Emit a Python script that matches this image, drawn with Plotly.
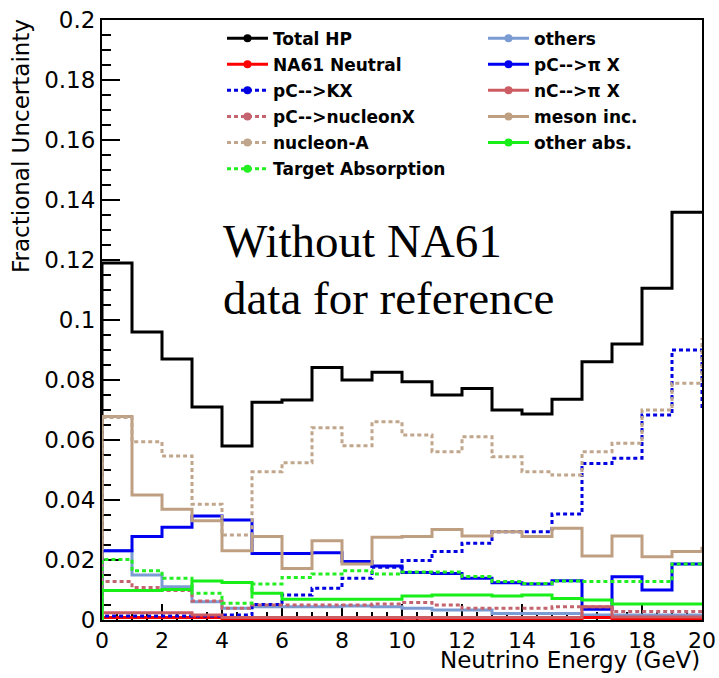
import plotly.graph_objects as go

# Binning: 1 GeV bins from 0 to 20 GeV
bin_edges = list(range(21))

# Fractional uncertainty per bin for each hadron-production component
total_hp = [0.119, 0.096, 0.087, 0.071, 0.058, 0.0726, 0.0733, 0.0842, 0.080, 0.0826,
            0.0794, 0.075, 0.0772, 0.070, 0.0687, 0.0736, 0.0861, 0.092, 0.1106, 0.1359]
others = [0.0231, 0.015, 0.0111, 0.0061, 0.0039, 0.0044, 0.0044, 0.0044, 0.0047, 0.0044,
          0.0039, 0.0033, 0.0033, 0.0022, 0.0022, 0.0022, 0.0017, 0.0017, 0.0017, 0.0017]
na61_neutral = [0.0008, 0.0008, 0.0008, 0.0008, 0.0005, 0.0003, 0.0003, 0.0003, 0.0003, 0.0003,
                0.0006, 0.0003, 0.0003, 0.0003, 0.0003, 0.0003, 0.0008, 0.0003, 0.0003, 0.0003]
pc_pix = [0.0231, 0.0278, 0.0309, 0.0347, 0.0333, 0.0222, 0.0222, 0.0224, 0.0195, 0.018,
          0.0158, 0.0155, 0.0139, 0.0124, 0.012, 0.0131, 0.0036, 0.0144, 0.010, 0.0187]
pc_kx = [0.0013, 0.0013, 0.0013, 0.0013, 0.0017, 0.0052, 0.0083, 0.0106, 0.0139, 0.0176,
         0.0198, 0.0228, 0.0256, 0.0294, 0.0294, 0.0353, 0.0522, 0.0539, 0.0683, 0.090]
nc_pix = [0.0024, 0.0024, 0.0024, 0.0017, 0.0008, 0.0008, 0.0008, 0.0008, 0.0008, 0.0008,
          0.0008, 0.0008, 0.0008, 0.0008, 0.0008, 0.0008, 0.0044, 0.001, 0.001, 0.001]
pc_nucleonx = [0.0128, 0.0108, 0.0098, 0.0063, 0.0039, 0.005, 0.005, 0.005, 0.005, 0.0053,
               0.0058, 0.005, 0.0039, 0.0039, 0.0039, 0.0044, 0.0044, 0.0028, 0.0028, 0.0028]
meson_inc = [0.0678, 0.0417, 0.0369, 0.0331, 0.0231, 0.0278, 0.0172, 0.0264, 0.0187, 0.0276,
             0.0278, 0.0302, 0.028, 0.0294, 0.0278, 0.0306, 0.0213, 0.028, 0.0211, 0.0228]
nucleon_a = [0.0675, 0.0594, 0.0547, 0.0386, 0.0283, 0.0494, 0.0524, 0.0641, 0.0581, 0.0661,
             0.0617, 0.0561, 0.0611, 0.0544, 0.0494, 0.0483, 0.0561, 0.0589, 0.070, 0.0789]
other_abs = [0.0098, 0.0098, 0.0102, 0.013, 0.0125, 0.0089, 0.0069, 0.0069, 0.0069, 0.0069,
             0.008, 0.0083, 0.0083, 0.008, 0.0083, 0.0072, 0.0067, 0.0053, 0.0053, 0.0053]
target_abs = [0.0202, 0.0164, 0.0139, 0.0089, 0.0056, 0.012, 0.0142, 0.0153, 0.0164, 0.0153,
              0.016, 0.016, 0.0145, 0.0128, 0.0122, 0.013, 0.0128, 0.0128, 0.0128, 0.0187]

# Overflow-bin contents (drawn as the closing step at the upper edge)
overflow = {"pC-->KX": 0.0707, "nucleon-A": 0.094, "meson inc.": 0.0244}

x_tick_vals = [0, 2, 4, 6, 8, 10, 12, 14, 16, 18, 20]
x_tick_labels = ["0", "2", "4", "6", "8", "10", "12", "14", "16", "18", "20"]
y_tick_vals = [0, 0.02, 0.04, 0.06, 0.08, 0.1, 0.12, 0.14, 0.16, 0.18, 0.2]
y_tick_labels = ["0", "0.02", "0.04", "0.06", "0.08", "0.1", "0.12", "0.14", "0.16", "0.18", "0.2"]

DOT = "4px,3px"

# name, values, colour, dash, legend column (drawing order = legend row order)
series = [
    ("Total HP", total_hp, "#000000", "solid", "legend"),
    ("others", others, "#7b9bd3", "solid", "legend2"),
    ("NA61 Neutral", na61_neutral, "#ff0000", "solid", "legend"),
    ("pC-->\u03c0 X", pc_pix, "#0000f0", "solid", "legend2"),
    ("pC-->KX", pc_kx, "#0000e0", DOT, "legend"),
    ("nC-->\u03c0 X", nc_pix, "#cc5c62", "solid", "legend2"),
    ("pC-->nucleonX", pc_nucleonx, "#c4646e", DOT, "legend"),
    ("meson inc.", meson_inc, "#bf9f82", "solid", "legend2"),
    ("nucleon-A", nucleon_a, "#bfa68c", DOT, "legend"),
    ("other abs.", other_abs, "#18ee18", "solid", "legend2"),
    ("Target Absorption", target_abs, "#22ee22", DOT, "legend"),
]

fig = go.Figure()

for name, vals, color, dash, leg in series:
    end = overflow.get(name, vals[-1])
    xs = [bin_edges[0]] + bin_edges[:-1] + [bin_edges[-1]]
    ys = [0] + list(vals) + [end]
    fig.add_trace(go.Scatter(
        x=xs, y=ys, mode="lines", line_shape="hv",
        line=dict(color=color, width=3, dash=dash),
        showlegend=False, hoverinfo="skip",
    ))

# Legend entries (line with a dot marker), split into two columns
for name, vals, color, dash, leg in series:
    fig.add_trace(go.Scatter(
        x=[None], y=[None], mode="lines+markers", name=name,
        line=dict(color=color, width=3, dash=dash),
        marker=dict(color=color, size=8, symbol="circle"),
        legend=leg, legendgroup=name,
    ))

legend_style = dict(
    font=dict(family="DejaVu Sans", size=17, color="#000000", weight="bold"),
    bgcolor="rgba(0,0,0,0)", borderwidth=0, orientation="v",
    itemwidth=41, tracegroupgap=1, xanchor="left", yanchor="top",
)

axis_font = dict(family="DejaVu Sans", size=23, color="#000000")
tick_font = dict(family="DejaVu Sans", size=22, color="#000000")

fig.update_layout(
    width=719, height=678,
    margin=dict(l=102, r=17, t=20, b=58, autoexpand=False),
    paper_bgcolor="white", plot_bgcolor="white",
    legend=dict(x=0.2, y=0.999, **legend_style),
    legend2=dict(x=0.635, y=0.999, **legend_style),
    xaxis=dict(
        range=[0, 20], tickvals=x_tick_vals, ticktext=x_tick_labels,
        ticks="inside", ticklen=16, tickwidth=2, tickcolor="#000000",
        minor=dict(ticks="inside", ticklen=8, tickwidth=2, dtick=0.5, tickcolor="#000000"),
        showline=True, linecolor="#000000", linewidth=2, mirror=True,
        showgrid=False, zeroline=False, tickfont=tick_font, layer="below traces",
        automargin=False,
    ),
    yaxis=dict(
        range=[0, 0.2], tickvals=y_tick_vals, ticktext=y_tick_labels,
        ticks="inside", ticklen=18, tickwidth=2, tickcolor="#000000",
        minor=dict(ticks="inside", ticklen=9, tickwidth=2, dtick=0.005, tickcolor="#000000"),
        showline=True, linecolor="#000000", linewidth=2, mirror=True,
        showgrid=False, zeroline=False, tickfont=axis_font, layer="below traces",
        automargin=False,
    ),
    annotations=[
        dict(text="Neutrino Energy (GeV)", xref="paper", yref="paper", x=1.0, y=-0.066,
             xanchor="right", yanchor="middle", showarrow=False, font=axis_font),
        dict(text="Fractional Uncertainty", xref="paper", yref="paper", x=-0.135, y=0.79,
             xanchor="center", yanchor="middle", textangle=-90, showarrow=False, font=axis_font),
        dict(text="Without NA61", xref="x", yref="y", x=3.95, y=0.1265,
             xanchor="left", yanchor="middle", showarrow=False,
             font=dict(family="Liberation Serif", size=47, color="#000000")),
        dict(text="data for reference", xref="x", yref="y", x=3.95, y=0.1074,
             xanchor="left", yanchor="middle", showarrow=False,
             font=dict(family="Liberation Serif", size=47, color="#000000")),
    ],
)

fig.write_html("out.html")
